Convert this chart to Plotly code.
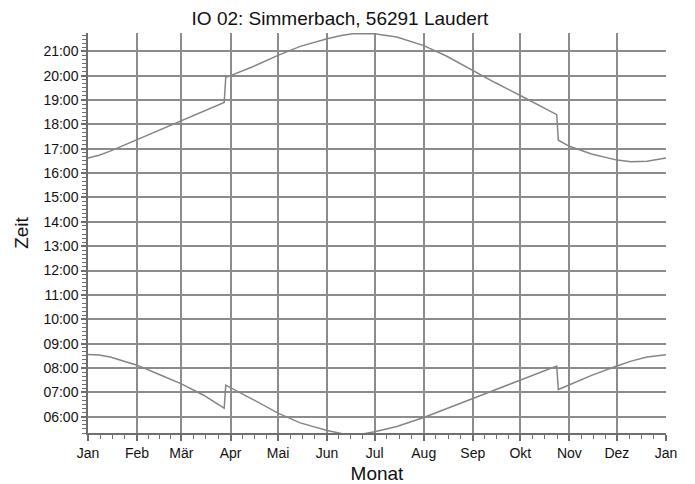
import pandas as pd
import plotly.graph_objects as go

# ---- data ----
dates = ["2015-01-01", "2015-01-08", "2015-01-15", "2015-02-01", "2015-02-15",
         "2015-03-01", "2015-03-15", "2015-03-28", "2015-03-29", "2015-04-01",
         "2015-04-15", "2015-05-01", "2015-05-15", "2015-06-01", "2015-06-10",
         "2015-06-17", "2015-06-24", "2015-07-01", "2015-07-15", "2015-08-01",
         "2015-08-15", "2015-09-01", "2015-09-15", "2015-10-01", "2015-10-15",
         "2015-10-24", "2015-10-25", "2015-11-01", "2015-11-15", "2015-12-01",
         "2015-12-10", "2015-12-20", "2016-01-01"]

sunrise = ["08:33", "08:32", "08:27", "08:07", "07:44",
           "07:21", "06:53", "06:21", "07:18", "07:12",
           "06:43", "06:09", "05:45", "05:26", "05:19",
           "05:17", "05:18", "05:23", "05:36", "05:58",
           "06:19", "06:44", "07:05", "07:29", "07:51",
           "08:05", "07:07", "07:18", "07:42", "08:05",
           "08:17", "08:27", "08:33"]

sunset = ["16:37", "16:44", "16:54", "17:22", "17:46",
          "18:10", "18:32", "18:54", "19:56", "20:00",
          "20:22", "20:50", "21:12", "21:31", "21:39",
          "21:43", "21:44", "21:43", "21:35", "21:14",
          "20:49", "20:12", "19:43", "19:11", "18:42",
          "18:24", "17:21", "17:06", "16:47", "16:32",
          "16:28", "16:29", "16:37"]

month_starts = ["2015-01-01", "2015-02-01", "2015-03-01", "2015-04-01", "2015-05-01",
                "2015-06-01", "2015-07-01", "2015-08-01", "2015-09-01", "2015-10-01",
                "2015-11-01", "2015-12-01", "2016-01-01"]
month_labels = ["Jan", "Feb", "Mär", "Apr", "Mai", "Jun", "Jul", "Aug", "Sep", "Okt",
                "Nov", "Dez", "Jan"]

title_text = "IO 02: Simmerbach, 56291 Laudert"

# ---- helpers ----
BASE = "1970-01-01 "
rise_y = [BASE + t for t in sunrise]
set_y = [BASE + t for t in sunset]

# minor x ticks: each month split into four parts
ms = pd.to_datetime(month_starts)
minor_x = []
for a, b in zip(ms[:-1], ms[1:]):
    for k in (1, 2, 3):
        minor_x.append((a + (b - a) * k / 4).strftime("%Y-%m-%d %H:%M:%S"))

LINE = "#858585"
GRID = "#8c8c8c"
AXIS = "#6e6e6e"
FONT = "Liberation Sans, Arial, sans-serif"

# page body has an 8px margin, so the figure is 8px smaller and shifted
W, H = 687, 476

fig = go.Figure()
fig.add_trace(go.Scatter(x=dates, y=set_y, mode="lines",
                         line=dict(color=LINE, width=1.5), showlegend=False))
fig.add_trace(go.Scatter(x=dates, y=rise_y, mode="lines",
                         line=dict(color=LINE, width=1.5), showlegend=False))

fig.update_layout(
    width=W, height=H,
    margin=dict(l=80, r=29, t=25, b=51),
    paper_bgcolor="white", plot_bgcolor="white",
    font=dict(family=FONT, color="#111111", size=14),
    title=dict(text=title_text, x=332 / W, xanchor="center", xref="container",
               y=1 - 10.5 / H, yanchor="middle", yref="container",
               font=dict(size=19, family=FONT, color="#111111")),
    xaxis=dict(
        type="date", range=["2015-01-01", "2016-01-01"], automargin=False,
        tickmode="array", tickvals=month_starts, ticktext=month_labels,
        ticks="outside", ticklen=6, tickwidth=1.5, tickcolor=AXIS,
        showgrid=True, gridcolor=GRID, gridwidth=1.5,
        showline=True, linecolor=AXIS, linewidth=1.5,
        zeroline=False,
        tickfont=dict(size=14, family=FONT, color="#111111"),
        minor=dict(tickmode="array", tickvals=minor_x, ticks="outside",
                   ticklen=4, tickwidth=1, tickcolor=AXIS, showgrid=False),
        title=dict(text="Monat", standoff=10,
                   font=dict(size=19, family=FONT, color="#111111")),
    ),
    yaxis=dict(
        type="date", range=[BASE + "05:20", BASE + "21:45"], automargin=False,
        tickformat="%H:%M", dtick=3600000, tick0=BASE + "00:00",
        ticks="outside", ticklen=5, tickwidth=1.5, tickcolor=AXIS,
        showgrid=True, gridcolor=GRID, gridwidth=1.5,
        showline=True, linecolor=AXIS, linewidth=1.5,
        zeroline=False,
        tickfont=dict(size=14, family=FONT, color="#111111"),
        minor=dict(dtick=600000, tick0=BASE + "00:00", ticks="outside",
                   ticklen=4, tickwidth=1, tickcolor=AXIS, showgrid=False),
        title=dict(text="Zeit", standoff=10,
                   font=dict(size=19, family=FONT, color="#111111")),
    ),
)

fig.write_html("out.html")
